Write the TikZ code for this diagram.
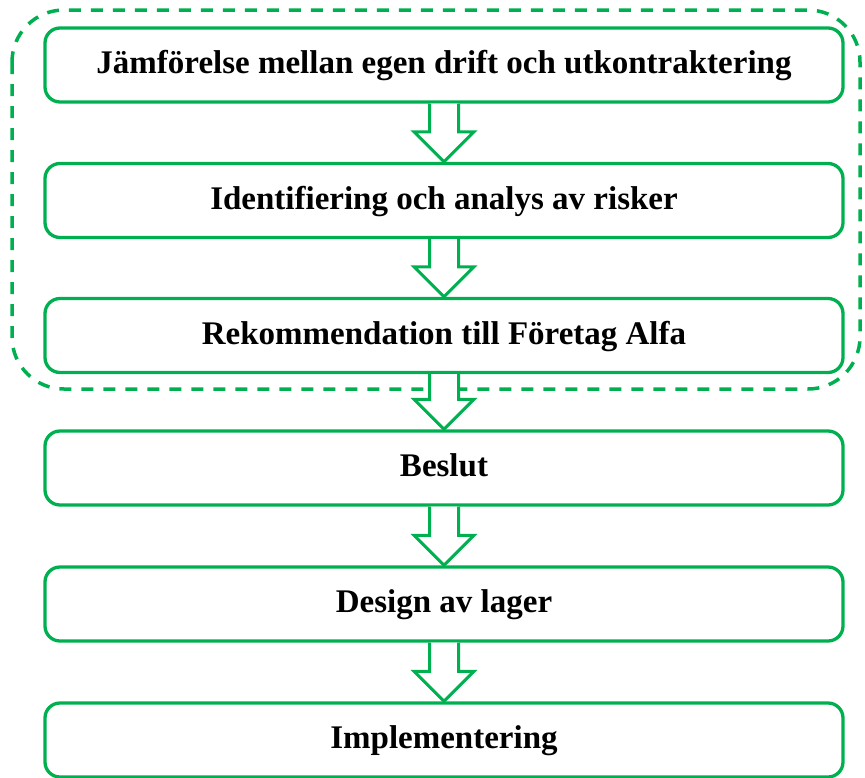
\documentclass[tikz,border=0pt]{standalone}
\usepackage{fontspec}
\setmainfont{Liberation Serif}
\usetikzlibrary{calc}
\definecolor{flowgreen}{HTML}{00B050}
\tikzset{
  stepbox/.style={draw=flowgreen, line width=3.3pt, rounded corners=15pt, fill=white,
    minimum width=798pt, minimum height=74pt, inner sep=0pt,
    text height=22pt, text depth=5pt,
    font=\fontsize{33}{38}\selectfont\bfseries, text=black},
  blockarrow/.style={draw=flowgreen, line width=3pt, fill=white, line join=miter},
  groupframe/.style={draw=flowgreen, line width=3.5pt, rounded corners=52pt,
    dash pattern=on 12pt off 10pt}
}
% hollow block arrow from the bottom of one box to the top of the next
\newcommand{\flowarrow}[2]{%
  \draw[blockarrow]
    ($(#1.south)+(-14.5,0)$) -- ($(#2.north)+(-14.5,-30)$) --
    ($(#2.north)+(-30,-30)$) -- (#2.north) --
    ($(#2.north)+(30,-30)$) -- ($(#2.north)+(14.5,-30)$) --
    ($(#1.south)+(14.5,0)$);}
\begin{document}
\begin{tikzpicture}[x=1pt, y=-1pt]
  \useasboundingbox (0,0) rectangle (865,777);
  \draw[groupframe] (12,10) rectangle (860,389);
  \node[stepbox] (b1) at (444,65)    {Jämförelse mellan egen drift och utkontraktering};
  \node[stepbox] (b2) at (444,200.5) {Identifiering och analys av risker};
  \node[stepbox] (b3) at (444,335.5) {Rekommendation till Företag Alfa};
  \node[stepbox] (b4) at (444,468)   {Beslut};
  \node[stepbox] (b5) at (444,604)   {Design av lager};
  \node[stepbox] (b6) at (444,740)   {Implementering};
  \flowarrow{b1}{b2}
  \flowarrow{b2}{b3}
  \flowarrow{b3}{b4}
  \flowarrow{b4}{b5}
  \flowarrow{b5}{b6}
\end{tikzpicture}
\end{document}
